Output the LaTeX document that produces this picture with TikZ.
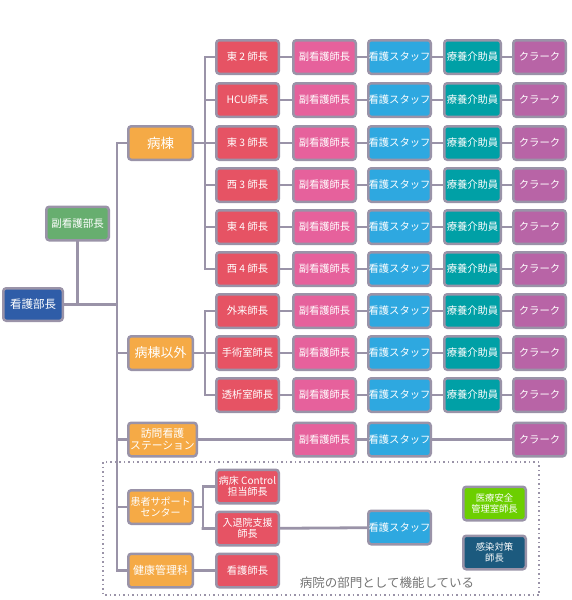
\documentclass[tikz,border=0pt]{standalone}
\usepackage{fontspec}
\newfontfamily\jp{Noto Sans CJK JP}
\usetikzlibrary{backgrounds}

\definecolor{frame}{HTML}{9A93A8}
\definecolor{chiefblue}{HTML}{2F5DA8}
\definecolor{subgreen}{HTML}{67AE6F}
\definecolor{wardorange}{HTML}{F5AA46}
\definecolor{headred}{HTML}{E65364}
\definecolor{subpink}{HTML}{E6619C}
\definecolor{staffblue}{HTML}{2EA8E0}
\definecolor{aidteal}{HTML}{00A0A6}
\definecolor{clerkpurple}{HTML}{B864A6}
\definecolor{safegreen}{HTML}{6CCF00}
\definecolor{infnavy}{HTML}{1C5A7E}

\begin{document}
\begin{tikzpicture}[x=1pt, y=-1pt,
	box/.style={draw=frame, line width=2.5pt, rounded corners=3pt, text=white, align=center,
		inner sep=0pt, minimum width=62.5pt, minimum height=33.5pt, font=\jp\fontsize{10.3}{11.5}\selectfont},
	link/.style={draw=frame, line width=2.8pt, line cap=rect}]

	\useasboundingbox (0,0) rectangle (571,600);

	% top of the chart
	\node[box, fill=chiefblue, minimum width=59.5pt, minimum height=32.5pt, font=\jp\fontsize{11.5}{13}\selectfont] (bucho) at (33,304.5) {看護部長};
	\node[box, fill=subgreen, font=\jp\fontsize{10.5}{12}\selectfont] (fuku) at (77.5,223.5) {副看護部長};

	% orange departments
	\node[box, fill=wardorange, minimum width=64.5pt, font=\jp\fontsize{13.5}{15}\selectfont] (byoto) at (160.5,143) {病棟};
	\node[box, fill=wardorange, minimum width=64.5pt, font=\jp\fontsize{13}{15}\selectfont] (igai) at (160.5,353) {病棟以外};
	\node[box, fill=wardorange, minimum width=68.5pt, font=\jp\fontsize{10.8}{11.8}\selectfont] (homon) at (162.5,439.5) {訪問看護\\ステーション};
	\node[box, fill=wardorange, minimum width=64.5pt, font=\jp\fontsize{10}{11.5}\selectfont] (kanja) at (160.5,507) {患者サポート\\センター};
	\node[box, fill=wardorange, minimum width=64.5pt, font=\jp\fontsize{11}{12}\selectfont] (kenko) at (160.5,570.5) {健康管理科};

	% trunk and branch points
	\coordinate (t1) at (117,143);
	\coordinate (t2) at (117,570.5);
	\coordinate (b1) at (205,57);
	\coordinate (b2) at (203,486.5);

	% ward rows
	\foreach \y/\n/\t in {57/r1/東 2 師長, 100/r2/HCU師長, 143/r3/東 3 師長, 185/r4/西 3 師長, 227/r5/東 4 師長,
		269/r6/西 4 師長, 311/r7/外来師長, 353/r8/手術室師長, 395/r9/透析室師長} {
		\node[box, fill=headred] (\n) at (247.5,\y) {\t};
		\node[box, fill=subpink] (\n-p) at (324.5,\y) {副看護師長};
		\node[box, fill=staffblue] (\n-s) at (399.5,\y) {看護スタッフ};
		\node[box, fill=aidteal, minimum width=56.5pt] (\n-k) at (472.5,\y) {療養介助員};
		\node[box, fill=clerkpurple, minimum width=52.5pt] (\n-c) at (539.5,\y) {クラーク};
		\begin{scope}[on background layer]
			\draw[link] (\n -| b1) -- (\n) -- (\n-p) -- (\n-s) -- (\n-k) -- (\n-c);
		\end{scope}
	}

	% visiting station row
	\node[box, fill=subpink] (homon-p) at (324.5,439.5) {副看護師長};
	\node[box, fill=staffblue] (homon-s) at (399.5,439.5) {看護スタッフ};
	\node[box, fill=clerkpurple, minimum width=52.5pt] (homon-c) at (539.5,439.5) {クラーク};

	% hospital departments
	\node[box, fill=headred, font=\jp\fontsize{10}{10.8}\selectfont] (byosho) at (247.5,486.5) {病床 Control\\担当師長};
	\node[box, fill=headred, font=\jp\fontsize{10}{10.8}\selectfont] (nyutai) at (247.5,528.5) {入退院支援\\師長};
	\node[box, fill=headred] (kangoshi) at (247.5,570.5) {看護師長};
	\node[box, fill=staffblue] (nyutai-s) at (399.5,527.5) {看護スタッフ};
	\node[box, fill=safegreen, font=\jp\fontsize{9.3}{10.5}\selectfont] (anzen) at (494.5,503.5) {医療安全\\管理室師長};
	\node[box, fill=infnavy, font=\jp\fontsize{9.3}{10.5}\selectfont] (kansen) at (494.5,552.5) {感染対策\\師長};

	% dotted frame and its label
	\draw[frame, line width=1.5pt, dash pattern=on 1.5pt off 3pt] (103,462) rectangle (539,595);
	\node[font=\jp\fontsize{12.5}{14}\selectfont, text=black!55] (note) at (387,583) {病院の部門として機能している};

	% connectors
	\begin{scope}[on background layer]
		\draw[link] (t1) -- (t2);
		\draw[link] (bucho) -- (bucho -| t1);
		\draw[link] (fuku) -- (fuku |- bucho);
		\draw[link] (byoto -| t1) -- (byoto) -- (byoto -| b1);
		\draw[link] (b1) -- (b1 |- r6);
		\draw[link] (igai -| t1) -- (igai) -- (igai -| b1);
		\draw[link] (b1 |- r7) -- (b1 |- r9);
		\draw[link] (homon -| t1) -- (homon) -- (homon-p) -- (homon-s) -- (homon-c);
		\draw[link] (kanja -| t1) -- (kanja) -- (kanja -| b2);
		\draw[link] (b2) -- (b2 |- nyutai);
		\draw[link] (byosho) -- (b2);
		\draw[link] (nyutai -| b2) -- (nyutai) -- (nyutai-s);
		\draw[link] (kenko -| t1) -- (kenko) -- (kangoshi);
	\end{scope}
\end{tikzpicture}
\end{document}
